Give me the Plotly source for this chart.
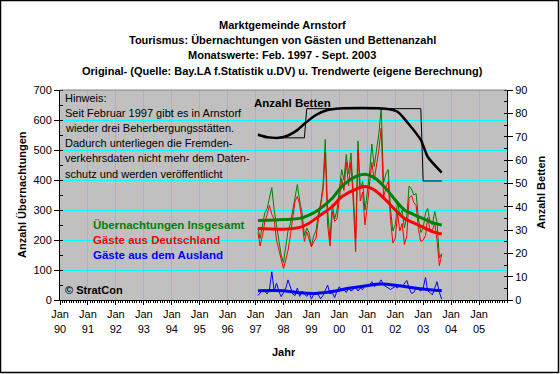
import pandas as pd
import plotly.graph_objects as go

# ---------------- data ----------------
MONTHS = pd.date_range("1997-02-01", "2003-09-01", freq="MS")

INSGESAMT = [
    240, 205, 250, 290, 305, 345, 375, 300, 255, 200, 150,          # 1997 Feb-Dec
    125, 175, 230, 255, 300, 345, 385, 330, 290, 215, 240, 225,     # 1998
    180, 215, 230, 285, 320, 380, 535, 300, 200, 320, 270, 300,     # 1999
    380, 435, 400, 485, 420, 490, 360, 205, 530, 370, 395, 300,     # 2000
    360, 430, 520, 445, 500, 555, 640, 390, 420, 435, 300, 230,     # 2001
    250, 330, 280, 300, 240, 280, 380, 370, 350, 355, 270, 225,     # 2002
    240, 290, 305, 260, 250, 295, 260, 140, 155,                    # 2003 Jan-Sep
]
DEUTSCHLAND = [
    225, 180, 215, 260, 285, 315, 285, 270, 200, 170, 140,
    105, 135, 165, 215, 280, 330, 345, 318, 260, 195, 228, 200,
    177, 195, 205, 267, 316, 365, 490, 250, 180, 295, 262, 270,
    336, 405, 365, 460, 380, 460, 325, 161, 500, 330, 360, 250,
    315, 380, 459, 400, 450, 500, 573, 340, 375, 395, 265, 190,
    205, 290, 230, 255, 185, 215, 340, 348, 325, 315, 235, 195,
    200, 215, 275, 235, 233, 255, 199, 115, 152,
]
AUSLAND = [
    15, 25, 33, 30, 20, 35, 94, 30, 56, 30, 11,
    25, 40, 67, 40, 20, 15, 40, 12, 30, 20, 12, 25,
    3, 20, 25, 18, 4, 15, 30, 50, 20, 25, 8, 30,
    44, 30, 35, 25, 40, 30, 35, 44, 30, 40, 35, 50,
    45, 50, 61, 45, 50, 55, 67, 50, 45, 40, 35, 40,
    45, 40, 50, 45, 55, 65, 40, 22, 25, 40, 35, 30,
    40, 75, 30, 25, 17, 40, 61, 25, 3,
]
BETTEN = [
    71, 71, 70, 69.5, 69.5, 69.5, 69.5, 69.5, 69.5, 69.5, 69.5,
    69.5, 69.5, 69.5, 69.5, 69.5, 69.5, 69.5, 69.5, 69.5, 69.5, 82, 82,
    82, 82, 82, 82, 82, 82, 82, 82, 82, 82, 82, 82,
    82, 82, 82, 82, 82, 82, 82, 82, 82, 82, 82, 82,
    82, 82, 82, 82, 82, 82, 82, 82, 82, 82, 82, 82,
    82, 82, 82, 82, 82, 82, 82, 82, 82, 82, 82, 82,
    51, 51, 51, 51, 51, 51, 51, 51, 51,
]

TREND_G_DATES = ["1997-02-01", "1998-01-01", "1998-08-01", "1998-12-01", "1999-04-01",
                 "1999-10-01", "2000-02-01", "2000-08-01", "2000-12-01", "2001-04-01",
                 "2001-09-01", "2002-01-01", "2002-05-01", "2002-11-01", "2003-05-01",
                 "2003-09-01"]
TREND_INSGESAMT = [265, 268, 272, 283, 300, 339, 378, 411, 419, 408, 372, 333, 300, 278, 258, 250]
TREND_DEUTSCHLAND = [238, 236, 242, 256, 278, 311, 344, 369, 378, 367, 333, 300, 272, 250, 228, 220]

TREND_A_DATES = ["1997-02-01", "1998-01-01", "1998-08-01", "1999-03-01", "1999-10-01",
                 "2000-05-01", "2000-12-01", "2001-07-01", "2002-02-01", "2002-10-01",
                 "2003-05-01", "2003-09-01"]
TREND_AUSLAND = [31, 31, 24, 22, 28, 39, 47, 53, 48, 39, 33, 31]

TREND_B_DATES = ["1997-02-01", "1997-06-01", "1997-11-01", "1998-03-01", "1998-07-01",
                 "1998-10-01", "1999-03-01", "1999-08-01", "2000-01-01", "2001-09-01",
                 "2002-02-01", "2002-06-01", "2002-12-01", "2003-03-01", "2003-09-01"]
TREND_BETTEN = [70.8, 69.8, 69.5, 70.5, 72.8, 75.5, 79.3, 81.4, 82.1, 82.0, 80.7, 76.4, 68.6, 61.4, 54.6]

TICK_YEARS = [str(y) for y in range(1990, 2006)]
TICK_LABELS = ["Jan<br>" + y[2:] for y in TICK_YEARS]

TITLE_LINES = [
    "Marktgemeinde Arnstorf",
    "Tourismus: Übernachtungen von Gästen und Bettenanzahl",
    "Monatswerte: Feb. 1997 - Sept. 2003",
    "Original- (Quelle: Bay.LA f.Statistik u.DV) u. Trendwerte (eigene Berechnung)",
]
NOTE_LINES = [
    "Hinweis:",
    "Seit Februar 1997 gibt es in Arnstorf",
    "wieder drei Beherbergungsstätten.",
    "Dadurch unterliegen die Fremden-",
    "verkehrsdaten nicht mehr dem Daten-",
    "schutz und werden veröffentlicht",
]

# ---------------- layout geometry ----------------
W, H = 560, 374
L, R, T, B = 60, 53, 90, 74
PW, PH = W - L - R, H - T - B


def px(x):
    return (x - L) / PW


def py(y):
    return (H - B - y) / PH


FONT = "Liberation Sans, Arial, sans-serif"
GREEN, RED, BLUE = "#008000", "#FF0000", "#0000FF"

fig = go.Figure()
fig.add_trace(go.Scatter(x=MONTHS, y=INSGESAMT, mode="lines", line=dict(color=GREEN, width=1)))
fig.add_trace(go.Scatter(x=MONTHS, y=DEUTSCHLAND, mode="lines", line=dict(color=RED, width=1)))
fig.add_trace(go.Scatter(x=MONTHS, y=AUSLAND, mode="lines", line=dict(color=BLUE, width=1)))
fig.add_trace(go.Scatter(x=TREND_G_DATES, y=TREND_INSGESAMT, mode="lines",
                         line=dict(color=GREEN, width=3, shape="spline", smoothing=0.8)))
fig.add_trace(go.Scatter(x=TREND_G_DATES, y=TREND_DEUTSCHLAND, mode="lines",
                         line=dict(color=RED, width=3, shape="spline", smoothing=0.8)))
fig.add_trace(go.Scatter(x=TREND_A_DATES, y=TREND_AUSLAND, mode="lines",
                         line=dict(color=BLUE, width=3, shape="spline", smoothing=0.8)))
fig.add_trace(go.Scatter(x=MONTHS, y=BETTEN, mode="lines", yaxis="y2",
                         line=dict(color="black", width=1)))
fig.add_trace(go.Scatter(x=TREND_B_DATES, y=TREND_BETTEN, mode="lines", yaxis="y2",
                         line=dict(color="black", width=2.5, shape="spline", smoothing=0.6)))

tickfont = dict(family=FONT, size=11, color="black")
fig.update_layout(
    width=W, height=H,
    margin=dict(l=L, r=R, t=T, b=B),
    paper_bgcolor="white", plot_bgcolor="#C0C0C0",
    showlegend=False,
    hovermode=False,
    font=dict(family=FONT, size=11, color="black"),
    xaxis=dict(
        type="date", range=["1990-01-01", "2006-01-01"],
        tickvals=[y + "-01-01" for y in TICK_YEARS], ticktext=TICK_LABELS,
        tickfont=tickfont, ticks="outside", ticklen=4, tickcolor="black",
        showgrid=True, gridcolor="#00FFFF", gridwidth=1,
        showline=True, linecolor="black", linewidth=1, zeroline=False,
        minor=dict(dtick="M1", ticks="outside", ticklen=2, tickcolor="black", showgrid=False),
        fixedrange=True,
    ),
    yaxis=dict(
        range=[0, 700], dtick=100, tickfont=tickfont,
        ticks="outside", ticklen=5, tickcolor="black",
        showgrid=True, gridcolor="#00FFFF", gridwidth=1,
        showline=True, linecolor="black", linewidth=1, zeroline=False,
        minor=dict(dtick=50, ticks="inside", ticklen=3, tickcolor="black", showgrid=False),
        fixedrange=True,
    ),
    yaxis2=dict(
        range=[0, 90], dtick=10, overlaying="y", side="right", tickfont=tickfont,
        ticks="outside", ticklen=5, tickcolor="black", showgrid=False,
        showline=True, linecolor="black", linewidth=1, zeroline=False,
        minor=dict(dtick=5, ticks="inside", ticklen=3, tickcolor="black"),
        fixedrange=True,
    ),
)

ann = []
title_y = [24.5, 40, 55.5, 71]
for t, yy in zip(TITLE_LINES, title_y):
    ann.append(dict(text="<b>" + t + "</b>", x=px(282), y=py(yy), xref="paper", yref="paper",
                    xanchor="center", yanchor="middle", showarrow=False,
                    font=dict(family=FONT, size=11, color="black")))
for i, t in enumerate(NOTE_LINES):
    ann.append(dict(text=t, x=px(63), y=py(97.5 + i * 15.2), xref="paper", yref="paper",
                    xanchor="left", yanchor="middle", showarrow=False,
                    font=dict(family=FONT, size=11, color="black")))
labels = [("Übernachtungen Insgesamt", GREEN, 225), ("Gäste aus Deutschland", RED, 240),
          ("Gäste aus dem Ausland", BLUE, 255)]
for t, c, yy in labels:
    ann.append(dict(text="<b>" + t + "</b>", x=px(91), y=py(yy), xref="paper", yref="paper",
                    xanchor="left", yanchor="middle", showarrow=False,
                    font=dict(family=FONT, size=11.5, color=c)))
ann.append(dict(text="<b>Anzahl Betten</b>", x=px(252), y=py(103), xref="paper", yref="paper",
                xanchor="left", yanchor="middle", showarrow=False,
                font=dict(family=FONT, size=11.5, color="black")))
ann.append(dict(text="<b>© StratCon</b>", x=px(63), y=py(290), xref="paper", yref="paper",
                xanchor="left", yanchor="middle", showarrow=False,
                font=dict(family=FONT, size=11, color="black")))
ann.append(dict(text="<b>Jahr</b>", x=px(283.5), y=py(352), xref="paper", yref="paper",
                xanchor="center", yanchor="middle", showarrow=False,
                font=dict(family=FONT, size=11, color="black")))
ann.append(dict(text="<b>Anzahl Übernachtungen</b>", x=px(22), y=py(195), xref="paper", yref="paper",
                xanchor="center", yanchor="middle", showarrow=False, textangle=-90,
                font=dict(family=FONT, size=11, color="black")))
ann.append(dict(text="<b>Anzahl Betten</b>", x=px(541), y=py(192), xref="paper", yref="paper",
                xanchor="center", yanchor="middle", showarrow=False, textangle=-90,
                font=dict(family=FONT, size=11, color="black")))
fig.update_layout(annotations=ann)

fig.update_layout(shapes=[
    # plot-area top border (grey)
    dict(type="line", xref="paper", yref="paper", x0=0, x1=1, y0=1, y1=1,
         line=dict(color="#808080", width=1)),
    # outer chart frame
    dict(type="rect", xref="paper", yref="paper",
         x0=px(0.5), x1=px(W - 1.5), y0=py(H - 1.5), y1=py(0.5),
         line=dict(color="black", width=1.5), fillcolor="rgba(0,0,0,0)"),
])

fig.write_html("out.html", config={"displayModeBar": False, "staticPlot": True},
               post_script="document.body.style.margin='0';document.body.style.overflow='hidden';")
